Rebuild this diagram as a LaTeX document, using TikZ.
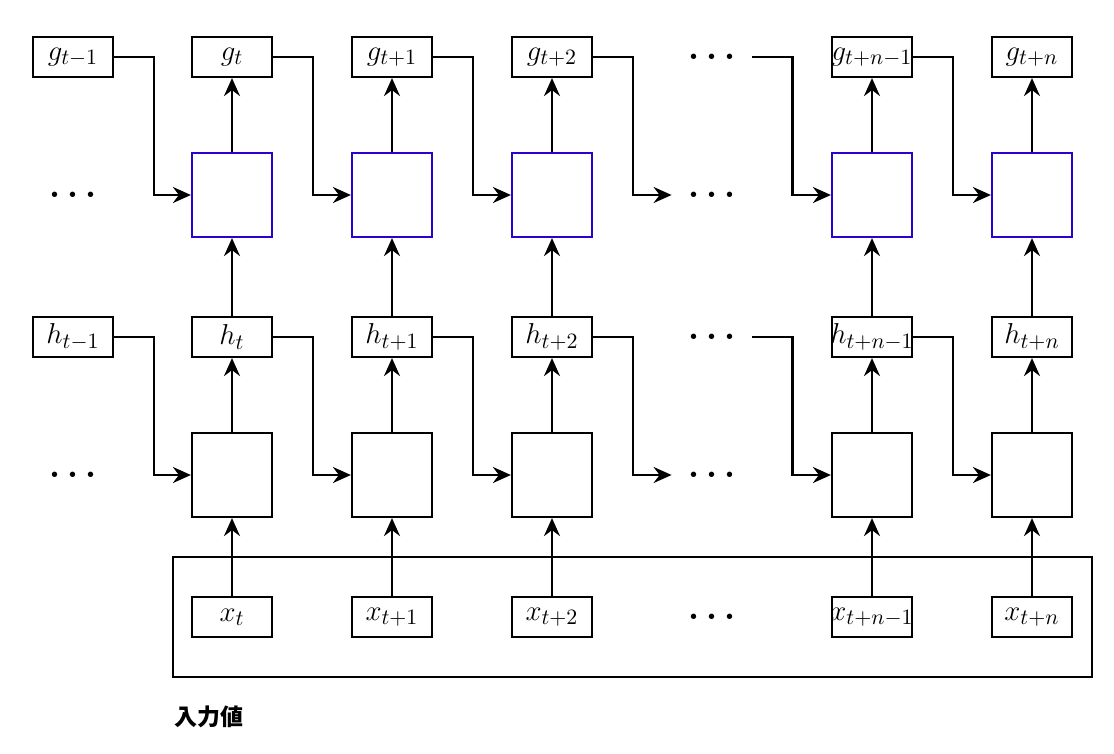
\documentclass[tikz,border=0pt]{standalone}
\usepackage{fontspec}
\newfontfamily\cjk{Noto Sans CJK JP}
\usetikzlibrary{arrows.meta}
\definecolor{cellblue}{RGB}{45,0,210}
\newcommand{\lbltext}[1]{\makebox[40pt]{$#1$}}
\begin{document}
\begin{tikzpicture}[x=0.5pt,y=-0.5pt,
  lbl/.style={draw,line width=1.1pt,minimum width=40pt,minimum height=20pt,inner sep=0pt,font=\fontsize{15.5}{18}\selectfont},
  cellg/.style={draw=cellblue,line width=1.1pt,minimum width=40pt,minimum height=42pt,inner sep=0pt},
  cellh/.style={draw,line width=1.1pt,minimum width=40pt,minimum height=42pt,inner sep=0pt},
  dotsn/.style={minimum width=40pt,inner sep=0pt,font=\fontsize{17}{20}\selectfont\boldmath},
  conn/.style={line width=1.1pt,-{Stealth[length=9pt,width=8pt,inset=3pt]}}]
\useasboundingbox (0,0) rectangle (1114,754);
% input frame
\node[draw,line width=1.1pt,minimum width=459.5pt,minimum height=60pt,inner sep=0pt] (inputs) at (632.5,617) {};
\node[anchor=west,inner sep=0pt,font=\cjk\bfseries\fontsize{11.5}{14}\selectfont] (lab) at (174,717) {入力値};
% left labels and dots
\node[lbl] (g0) at (73,57) {\lbltext{g_{t-1}}};
\node[lbl] (h0) at (73,337) {\lbltext{h_{t-1}}};
\node[dotsn] (dGl) at (73,195) {$\cdots$};
\node[dotsn] (dHl) at (73,475) {$\cdots$};
% middle dots
\node[dotsn] (dg) at (712,57) {$\cdots$};
\node[dotsn] (dG) at (712,195) {$\cdots$};
\node[dotsn] (dh) at (712,337) {$\cdots$};
\node[dotsn] (dH) at (712,475) {$\cdots$};
\node[dotsn] (dx) at (712,617) {$\cdots$};
% columns
\foreach \i/\x/\s in {1/232/t,2/392/t+1,3/552/t+2,5/872/t+n-1,6/1032/t+n}{
  \node[lbl] (g\i) at (\x,57) {\lbltext{g_{\s}}};
  \node[cellg] (G\i) at (\x,195) {};
  \node[lbl] (h\i) at (\x,337) {\lbltext{h_{\s}}};
  \node[cellh] (H\i) at (\x,475) {};
  \node[lbl] (x\i) at (\x,617) {\lbltext{x_{\s}}};
  \draw[conn] (G\i) -- (g\i);
  \draw[conn] (h\i) -- (G\i);
  \draw[conn] (H\i) -- (h\i);
  \draw[conn] (x\i) -- (H\i);
}
% recurrent connectors
\foreach \a/\b in {g0/G1,g1/G2,g2/G3,g3/dG,dg/G5,g5/G6,h0/H1,h1/H2,h2/H3,h3/dH,dh/H5,h5/H6}{
  \draw[conn] (\a.east) -- ++(40,0) |- (\b.west);
}
\end{tikzpicture}
\end{document}
